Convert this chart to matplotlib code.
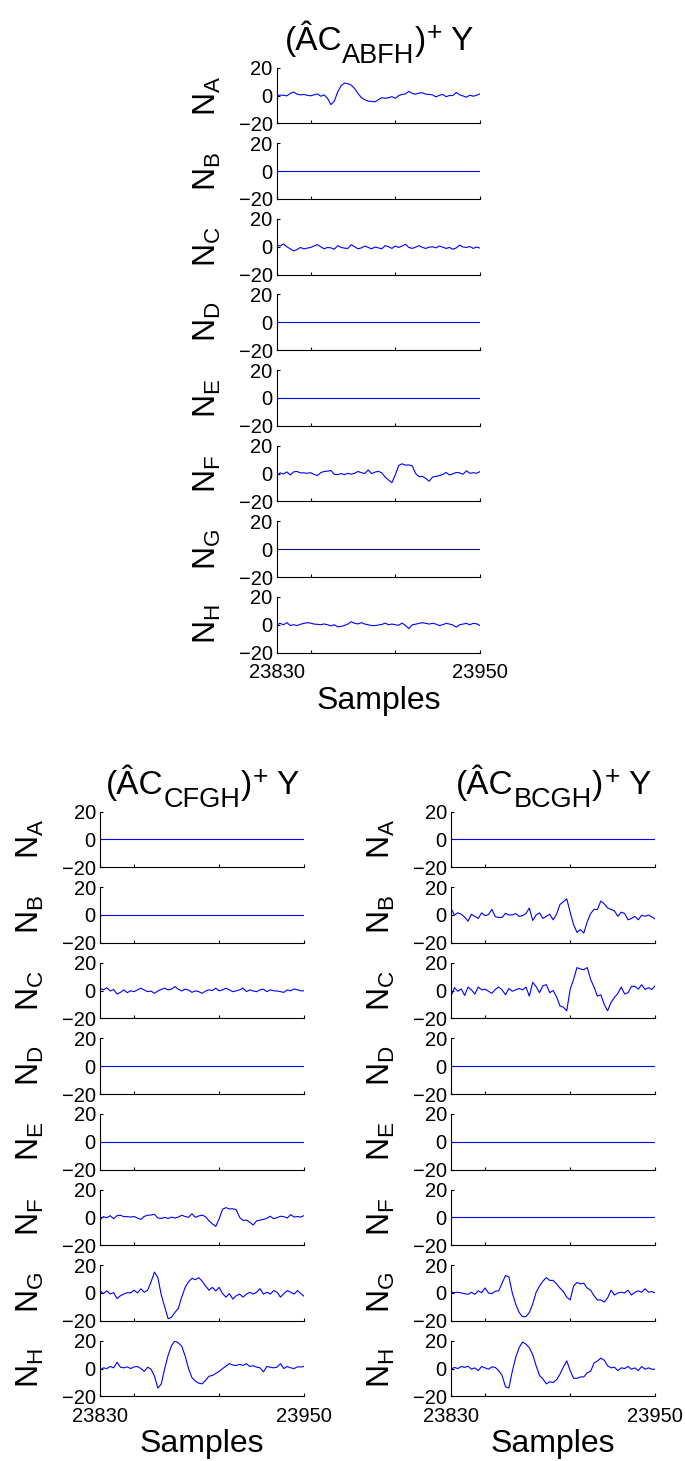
import numpy as np
import matplotlib
matplotlib.use("Agg")
import matplotlib.pyplot as plt
from matplotlib.transforms import IdentityTransform

plt.rcParams['font.family'] = ['Liberation Sans', 'DejaVu Sans']
plt.rcParams['mathtext.fontset'] = 'custom'
plt.rcParams['mathtext.rm'] = 'Liberation Sans'
plt.rcParams['mathtext.it'] = 'Liberation Sans'
plt.rcParams['mathtext.bf'] = 'Liberation Sans:bold'

# sample axis (every 2nd sample)
samples = np.arange(23830, 23951, 2)
sources = ['A', 'B', 'C', 'D', 'E', 'F', 'G', 'H']
xticks = [23830, 23850, 23900, 23950]
xticklabels = ['23830', '', '', '23950']
yticks = [-20, 0, 20]

flat = [0.0] * len(samples)

# (A C_ABFH)^+ Y
abfh_A = [0, 0.3, 0.2, -0.2, 1.5, 2.5, 1, 0.5, 0.8, 0.2, -0.2, 0.5, 1.2, -0.5, 0.5,
          -2, -6.5, -4, 2.5, 7, 9, 8.5, 7.5, 5, 1.5, -1.5, -3, -4, -4.2, -4.5,
          -3, -1.5, -2, -1.5, -0.8, -2, 0, 0.8, 1.2, 3, 1.5, 1, 1.8, 2, 1,
          0.8, 0.5, -1, 0.2, 0.8, -0.8, 0, 0, 2.2, 0.5, -0.3, -1.2, 0.3, -0.5, 0.2, 1.2]
abfh_C = [1.2, 0.5, 2, 0, -1.5, -3, -2, -0.5, -1.5, -1, -0.5, 0.5, 1.5, 0, -1.5,
          -0.5, -0.8, -1.8, 0.8, -0.5, -1, -1.2, 1.5, 0, -1.5, -0.8, 0.5, -0.5, -1.5, -0.2,
          -0.8, -1.5, 0.8, 0, -1.2, 0.5, -0.5, 0.5, 1.8, -0.5, -1.2, -0.3, 0.8, -0.5, -1.2,
          -0.3, 0, -0.8, 0.5, -0.3, -1.2, -0.5, -1.8, -0.8, 1.2, -0.2, -0.5, 0.2, -1.2, -0.2, -1]
abfh_F = [-1.7, 0.5, -0.3, 1.2, -1, 1.2, 1.5, 0.5, 0.5, 0.2, 0.6, -0.5, -1.5, 0.7, 1.5,
          1.7, 2.2, -0.5, -0.8, 0, -0.8, 0.2, -0.5, 0.2, 1.5, 0.6, 0, 2.6, 0, 1,
          1.6, 0.5, -2.5, -4.7, -6.5, -1, 5.8, 7, 6, 6.2, 5.5, 0, -2.2, -2, -3.5,
          -5.5, -2.5, -2, -1.5, -0.7, 0.8, -1, -0.2, 0.8, 0.5, -0.5, 2, 0.2, 0.6, 0.2, 1.4]
abfh_H = [0, 1, 0, 1.5, -0.5, 0, -0.6, 0.3, 1, 1.5, 1.2, 0.5, 0.3, 0, 0.6,
          0, -0.8, 0, -1.5, -1.2, -0.5, 0.5, 2.2, 1, 0.6, 1.5, 0.5, 0, -0.6, -0.6,
          -0.2, 0.2, 1.2, 0, 0.5, 0, -0.4, 1.2, -0.5, -2.8, 0, 0.4, 1, 1.5, 1,
          0.5, 1, 0.5, -0.6, 0, 1, 0.5, -0.2, -1.7, 0, 0.5, 1, 0, 1, 0.7, -0.6]

# (A C_CFGH)^+ Y
cfgh_C = [1.7, 0.5, 2, -0.3, 0.8, -2.5, -1.3, 0.5, -1.5, -0.2, -0.8, 0.5, 1.7, 0.4, -0.8,
          -0.4, -2, -0.3, 0.8, 1.7, 0.5, 1, 2.8, 1, -0.3, 1, 0.4, -1.3, -0.2, -0.8,
          -2, -0.3, 0.5, 0, 1.7, -0.2, 0.5, 1.7, 0.5, -0.8, -0.2, 0.5, 1.7, -0.8, 0.5,
          -0.3, -0.8, 0.5, 1, -0.8, 0.5, -0.2, -0.3, -0.8, -1.3, 0.5, -0.2, 1.2, 0.5, -0.2, -0.2]
cfgh_F = abfh_F
cfgh_G = [1.7, -0.5, 1.5, -0.7, 0.2, -4, -2, -0.8, 0.2, 0, 2, 0, 3, 0.5, 2,
          8, 15, 11, -1.5, -10, -18.5, -17.5, -14, -11, -3, 4, 8, 10.5, 9.5, 11,
          8.5, 5, 2, 4, 1.5, 4, -0.5, -3, -0.5, -4.4, -2, -0.8, -3, -0.8, 0.5,
          -0.8, 0.5, 3, -0.8, 0.5, -0.8, 1.7, 0.5, -3, -0.5, 1.7, 0.5, -0.8, 1.7, -0.5, -2.5]
cfgh_H = [-1.2, 0.5, 0, 1.5, 0.5, 4.5, 1, 0.5, 1.2, 0, 1.2, 1.5, 0, -2, 1,
          -0.5, -5.5, -14, -11, 0, 9.5, 16.5, 19.8, 18.5, 16, 9, 0, -6.5, -9, -10.5,
          -11, -8.5, -5.5, -5, -3.5, -2, 0, 1.7, 3.5, 2.5, 2.2, 3, 2.2, 3.5, 1.5,
          2, 1, 0.5, -2.4, 1.5, 1, 0.5, 1, 3.5, 0, 1.5, 0.5, 0, 1.2, 1.2, 1.5]

# (A C_BCGH)^+ Y
bcgh_B = [4.7, 0, 1.5, 0.5, -1.5, -4.5, 0.5, -1, -2.5, 1.5, -0.5, 0.2, 4, -1.2, -1.8,
          -1.8, 1.2, 0, 0, 1, -1, -0.5, 1, 5, -4, 0, 1.5, -2.5, -1, 0.5,
          -3.5, 0.5, 7.5, 9.5, 11.5, 2, -7, -12.5, -10.5, -13, -5, 1, 4, 4, 10,
          8, 5, 4, 3, -1, 2, 1, -3.5, -2.5, -1, -3.5, -0.2, -1, 0, -1.5, -3]
bcgh_C = [-4, 2, -0.5, 1.2, -3.5, 2.5, 0.5, -2.5, 2.5, 0.5, 1, -0.5, -2, 0.8, 2.5,
          0.5, -3, 1.5, -0.5, 0.5, 1.5, 0.5, 2.5, -4, 5.9, 2.8, -1.5, 3.5, 4.2, -1.5,
          0, -4.5, -11, -12, -14.5, 1, 8, 16.5, 15.5, 15, 16.5, 8, 2.5, -4, -3,
          -10, -14.5, -8.5, -5, -2, 2.5, -2.5, -1.5, 3, 3, 1, 4.2, 0.8, 2, 0.8, 3.5]
bcgh_G = [0.5, 0.2, 0.5, 0, -0.5, -1, 0.5, -1, 1.5, 0.2, 3.6, 0, -0.5, 1.2, 1.5,
          7, 12.5, 11.5, 0, -8, -14, -17, -17, -14, -8, 0.5, 5, 8.5, 11, 9,
          9, 6.5, 3.5, 1, -3, -5, 5, 7.5, 6.5, 7, 3.5, 2, -2, -5, -5,
          -6.5, -3.5, 2, -1.5, 0, 0.5, 0, 2, -1.5, 0.5, 1.5, 0.5, 3, 0.5, 1, 0]
bcgh_H = [-0.5, 0.8, 0, 1.5, 0.8, 1.7, -0.5, 0.5, -1.5, 1.5, 0.5, -0.5, 1.2, 0.8, -1.5,
          -5, -13, -14, -2, 8, 15, 19, 17.5, 15, 10, 2, -5, -7.5, -11, -9.5,
          -10, -8, -4, 1, 5.5, -1.5, -7, -7, -6, -6, -3, -2, 4, 5.5, 7.5,
          6, 2, 0.5, 1, -1.5, 0.5, 0, 1.5, -0.5, 0.5, -1.5, 1.5, -0.5, 0.5, -0.5, -0.5]

groups = [
    {'sub': 'ABFH',
     'traces': {'A': abfh_A, 'C': abfh_C, 'F': abfh_F, 'H': abfh_H},
     'left': 276.7, 'width': 203.3, 'top': 67.7},
    {'sub': 'CFGH',
     'traces': {'C': cfgh_C, 'F': cfgh_F, 'G': cfgh_G, 'H': cfgh_H},
     'left': 100.0, 'width': 204.3, 'top': 811.5},
    {'sub': 'BCGH',
     'traces': {'B': bcgh_B, 'C': bcgh_C, 'G': bcgh_G, 'H': bcgh_H},
     'left': 451.0, 'width': 204.3, 'top': 811.5},
]

W, H = 685, 1461
fig = plt.figure(figsize=(W / 100, H / 100), dpi=100)
renderer = fig.canvas.get_renderer()

pitch = 75.6
ax_h = 55.7


def draw_title(cx, base, sub):
    # (ÂC_sub)^+ Y built piece by piece: MATLAB-style big, low subscript
    pieces = [('(ÂC', 24, 0, 0), (sub, 19.5, -13, 0), (')', 24, 0, 0),
              ('+', 19, 10, 1), ('Y', 24, 0, 8)]
    texts = []
    total = 0
    for s, size, dy, gap in pieces:
        t = fig.text(0, 0, s, fontsize=size, transform=IdentityTransform(),
                     ha='left', va='baseline')
        w = t.get_window_extent(renderer).width
        texts.append((t, dy, gap, w))
        total += gap + w
    x = cx - total / 2
    for t, dy, gap, w in texts:
        x += gap
        t.set_position((x, H - base + dy))
        x += w


for gi, g in enumerate(groups):
    for i, src in enumerate(sources):
        top = g['top'] + i * pitch
        ax = fig.add_axes([g['left'] / W, 1 - (top + ax_h) / H, g['width'] / W, ax_h / H])
        vals = g['traces'].get(src, flat)
        color = '#0000ff'
        if gi == 0 and src == 'G':
            color = '#10108a'
        ax.plot(samples, vals, color=color, lw=0.8)
        ax.set_xlim(23830, 23950)
        ax.set_ylim(-20, 20)
        ax.set_yticks(yticks)
        ax.set_xticks(xticks)
        if i == len(sources) - 1:
            ax.set_xticklabels(xticklabels)
        else:
            ax.set_xticklabels([])
        ax.spines['top'].set_visible(False)
        ax.spines['right'].set_visible(False)
        for s in ['left', 'bottom']:
            ax.spines[s].set_linewidth(0.8)
            ax.spines[s].set_color('black')
        ax.tick_params(direction='in', length=2.5, width=0.8, labelsize=14.5)
        ax.tick_params(axis='y', pad=3)
        ax.tick_params(axis='x', pad=7.5)
        ax.patch.set_alpha(0)
        ax.text(-54 / g['width'], 0.5, r'$N_{%s}$' % src, transform=ax.transAxes,
                rotation=90, ha='right', va='center', fontsize=23)

    cx = g['left'] + g['width'] / 2
    draw_title(cx, g['top'] - 17.7, g['sub'])
    bottom_px = g['top'] + 7 * pitch + ax_h
    fig.text(cx / W, 1 - (bottom_px + 56) / H, 'Samples', ha='center', va='baseline', fontsize=23)

fig.savefig('out.png', dpi=100)
